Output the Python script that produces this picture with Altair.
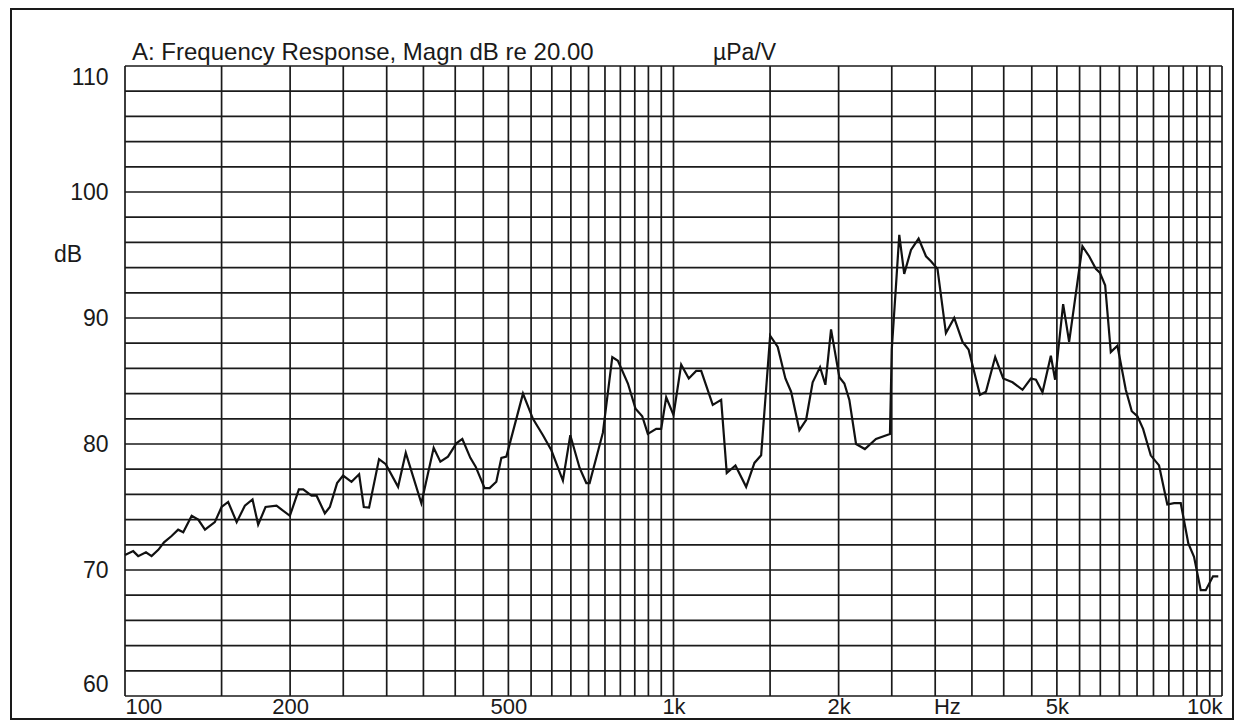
import altair as alt
import pandas as pd

# Frequency response curve (Hz, dB)
freqs = [100, 103.5, 105.7, 109.2, 111.8, 115.0, 117.8, 121.6, 125.0, 127.7,
         132.3, 136.0, 139.9, 145.8, 150.0, 154.2, 159.8, 165.4, 170.8, 174.9,
         180.4, 188.9, 199.8, 207.5, 211.3, 218.8, 223.5, 231.4, 236.3, 243.6,
         249.8, 258.8, 267.2, 272.5, 278.6, 290.5, 298.8, 314.7, 325.0, 347.0,
         365.4, 375.8, 388.0, 401.9, 412.1, 426.2, 435.8, 452.5, 462.1, 475.3,
         485.5, 495.8, 531.6, 554.3, 578.1, 598.9, 628.6, 648.4, 674.3, 693.5,
         703.1, 743.5, 773.4, 791.8, 825.8, 852.7, 877.0, 897.8, 930.0, 949.7,
         969.8, 1000, 1032.8, 1066.3, 1099.9, 1123.3, 1179.2, 1221.5, 1250.5, 1297,
         1356.6, 1404.6, 1444.7, 1500.3, 1548.8, 1599.6, 1638.4, 1696.3, 1744.6, 1793.5,
         1850.1, 1891.9, 1937.4, 2006.3, 2048.8, 2092.2, 2151.8, 2233, 2339.7, 2481,
         2500, 2544, 2580, 2634, 2710, 2798, 2886, 2947, 3029, 3138,
         3249, 3365, 3451, 3620, 3712, 3859, 3991, 4150, 4328, 4483,
         4579, 4707, 4875, 4963, 5133, 5264, 5566, 5725, 5888, 5988,
         6123, 6270, 6447, 6677, 6847, 7010, 7180, 7415, 7677, 7949,
         8177, 8410, 8682, 8892, 9146, 9340, 9630, 9845]

levels = [71.2, 71.5, 71.1, 71.4, 71.1, 71.6, 72.2, 72.7, 73.2, 73.0,
          74.3, 74.0, 73.2, 73.8, 75.0, 75.4, 73.8, 75.1, 75.6, 73.6,
          75.0, 75.1, 74.3, 76.4, 76.4, 75.9, 75.9, 74.5, 75.0, 76.9,
          77.5, 77.0, 77.6, 75.0, 74.95, 78.8, 78.4, 76.6, 79.3, 75.3,
          79.7, 78.6, 79.0, 80.05, 80.4, 78.9, 78.2, 76.5, 76.5, 77.0,
          78.9, 79.0, 84.0, 82.0, 80.7, 79.5, 77.1, 80.7, 78.1, 76.9,
          76.9, 80.9, 86.9, 86.6, 84.8, 82.8, 82.2, 80.8, 81.2, 81.2,
          83.7, 82.3, 86.3, 85.2, 85.8, 85.8, 83.1, 83.5, 77.7, 78.3,
          76.6, 78.5, 79.1, 88.6, 87.7, 85.2, 84.15, 81.1, 81.9, 84.9,
          86.1, 84.7, 89.1, 85.3, 84.8, 83.5, 80.0, 79.6, 80.4, 80.8,
          87.5, 92.5, 96.6, 93.5, 95.4, 96.3, 94.9, 94.5, 93.9, 88.8,
          90.0, 88.1, 87.5, 83.9, 84.15, 86.9, 85.2, 84.9, 84.3, 85.2,
          85.1, 84.1, 87.0, 85.1, 91.1, 88.1, 95.7, 94.9, 93.9, 93.6,
          92.6, 87.3, 87.8, 84.3, 82.6, 82.2, 81.2, 79.1, 78.3, 75.2,
          75.3, 75.3, 72.1, 71.05, 68.4, 68.4, 69.5, 69.5]

# Grid and tick values
x_grid = list(range(100, 1001, 50)) + list(range(1500, 10001, 500))
y_grid = list(range(60, 111, 2))
x_ticks = [100, 200, 500, 1000, 2000, 3150, 5000, 10000]
y_ticks = [60, 70, 80, 90, 100, 110]

title_text = "A: Frequency Response, Magn dB re 20.00"
unit_text = "\u00b5Pa/V"
y_title = "dB"

FONT = "Liberation Sans"
FS = 23
INK = "#1a1a1a"

xs = alt.Scale(type="log", domain=[100, 10000], nice=False)
ys = alt.Scale(domain=[60, 110], nice=False, zero=False)

x_axis = alt.Axis(
    values=x_ticks, grid=False, ticks=False, tickSize=0, domain=False,
    labelFlush=True, labelPadding=0, labelFont=FONT, labelFontSize=22,
    labelColor=INK, title=None, labelAngle=0,
    labelExpr="datum.value == 3150 ? 'Hz' : (datum.value >= 1000 ? (datum.value/1000) + 'k' : datum.value + '')",
)
y_axis = alt.Axis(
    values=y_ticks, grid=False, ticks=False, tickSize=0, domain=False,
    labelFlush=True, labelPadding=17, labelFont=FONT, labelFontSize=FS,
    labelColor=INK, title=None,
)

curve = pd.DataFrame({"f": freqs, "db": levels})
gx = pd.DataFrame({"f": x_grid})
gy = pd.DataFrame({"v": y_grid})

vgrid = alt.Chart(gx).mark_rule(color=INK, strokeWidth=1.7).encode(
    x=alt.X("f:Q", scale=xs, axis=x_axis)
)
hgrid = alt.Chart(gy).mark_rule(color=INK, strokeWidth=1.7).encode(
    y=alt.Y("v:Q", scale=ys, axis=y_axis)
)

line = alt.Chart(curve).mark_line(color="#111111", strokeWidth=2.2).encode(
    x=alt.X("f:Q", scale=xs, axis=x_axis),
    y=alt.Y("db:Q", scale=ys, axis=y_axis),
)

t1 = alt.Chart(pd.DataFrame({"t": [title_text]})).mark_text(
    font=FONT, fontSize=24, color=INK, align="left", baseline="alphabetic"
).encode(x=alt.value(7), y=alt.value(-6), text="t:N")

t2 = alt.Chart(pd.DataFrame({"t": [unit_text]})).mark_text(
    font=FONT, fontSize=FS, color=INK, align="left", baseline="alphabetic"
).encode(x=alt.value(588), y=alt.value(-6), text="t:N")

t3 = alt.Chart(pd.DataFrame({"t": [y_title]})).mark_text(
    font=FONT, fontSize=FS, color=INK, align="center", baseline="middle"
).encode(x=alt.value(-57), y=alt.value(189), text="t:N")

frame = alt.Chart(pd.DataFrame({"a": [0]})).mark_rect(
    fill=None, stroke=INK, strokeWidth=2
).encode(x=alt.value(-114), x2=alt.value(1108), y=alt.value(-57), y2=alt.value(653))

chart = alt.layer(vgrid, hgrid, line, t1, t2, t3, frame).properties(
    width=1097, height=630,
    autosize=alt.AutoSizeParams(type="none"),
    padding={"left": 117, "top": 58, "right": 13, "bottom": 24},
    background="white",
).configure_view(stroke=None)

chart.save("out.html", embed_options={"renderer": "svg", "actions": False})
